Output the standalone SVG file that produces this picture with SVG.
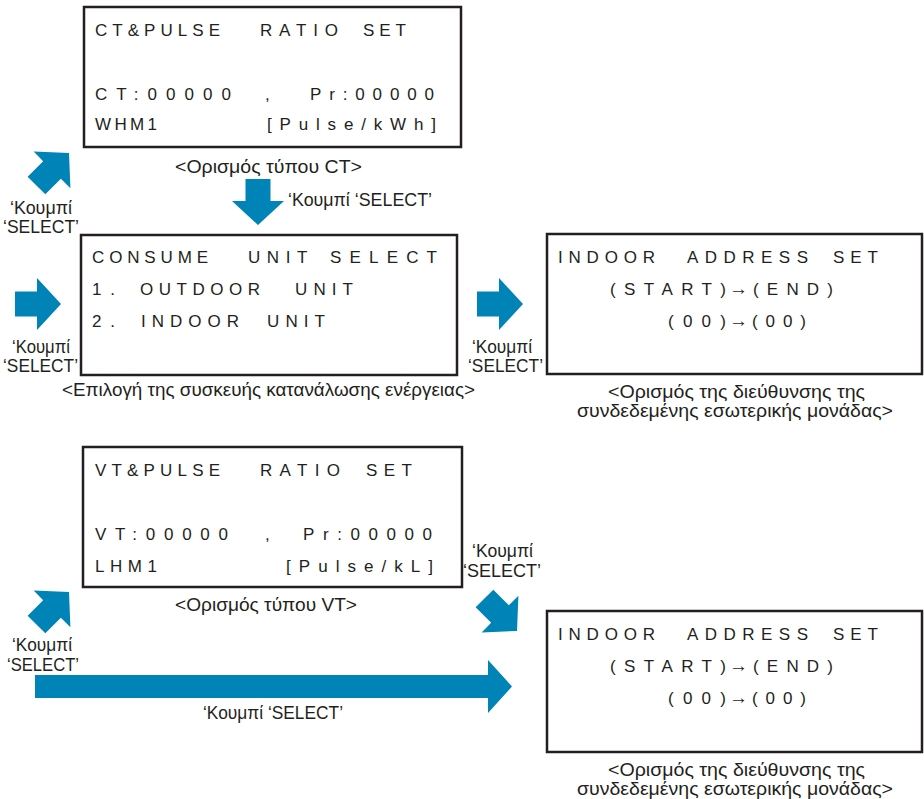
<svg xmlns="http://www.w3.org/2000/svg" width="924" height="799" viewBox="0 0 924 799">
<defs>
<style>
.box{fill:#fff;stroke:#231f20;stroke-width:2.5}
.lcd{font-family:"Liberation Sans",Arial,sans-serif;font-size:17px;fill:#231f20}
.arr{font-size:19px}
.cap{font-family:"Liberation Sans",Arial,sans-serif;font-size:18px;fill:#231f20}
.ar{fill:#0083b7}
</style>
<path id="ah" d="M-46,-12.5 H-24 V-26 L0,0 L-24,26 V12.5 H-46 Z"/>
</defs>
<rect width="924" height="799" fill="#fff"/>
<g id="connectors">
<use href="#ah" class="ar" transform="translate(69,153) rotate(-45)"/>
<use href="#ah" class="ar" transform="translate(258,225) rotate(90)"/>
<use href="#ah" class="ar" transform="translate(61,304)"/>
<use href="#ah" class="ar" transform="translate(523,304)"/>
<use href="#ah" class="ar" transform="translate(69,592) rotate(-45)"/>
<use href="#ah" class="ar" transform="translate(517,631) rotate(45)"/>
<path class="ar" d="M35,675 H488 V660 L512,686.5 L488,713 V698 H35 Z"/>
<text class="cap" x="10" y="214" textLength="62" lengthAdjust="spacingAndGlyphs">‘Κουμπί</text>
<text class="cap" x="3" y="233" textLength="76" lengthAdjust="spacingAndGlyphs">‘SELECT’</text>
<text class="cap" x="288" y="206" textLength="144" lengthAdjust="spacingAndGlyphs">‘Κουμπί ‘SELECT’</text>
<text class="cap" x="12" y="353" textLength="58" lengthAdjust="spacingAndGlyphs">‘Κουμπί</text>
<text class="cap" x="3" y="372" textLength="75" lengthAdjust="spacingAndGlyphs">‘SELECT’</text>
<text class="cap" x="472" y="353" textLength="60" lengthAdjust="spacingAndGlyphs">‘Κουμπί</text>
<text class="cap" x="468" y="372" textLength="75" lengthAdjust="spacingAndGlyphs">‘SELECT’</text>
<text class="cap" x="472" y="557" textLength="61" lengthAdjust="spacingAndGlyphs">‘Κουμπί</text>
<text class="cap" x="463" y="577" textLength="78" lengthAdjust="spacingAndGlyphs">‘SELECT’</text>
<text class="cap" x="12" y="651" textLength="60" lengthAdjust="spacingAndGlyphs">‘Κουμπί</text>
<text class="cap" x="7" y="671" textLength="72" lengthAdjust="spacingAndGlyphs">‘SELECT’</text>
<text class="cap" x="203" y="719" textLength="140" lengthAdjust="spacingAndGlyphs">‘Κουμπί ‘SELECT’</text>
</g>
<g id="node-ct">
<rect class="box" x="84" y="7" width="377" height="140"/>
<text class="lcd" y="36"><tspan x="95" textLength="125">CT&amp;PULSE</tspan> <tspan x="260" textLength="78">RATIO</tspan> <tspan x="363" textLength="43">SET</tspan></text>
<text class="lcd" y="100"><tspan x="95" textLength="136">CT:00000</tspan> <tspan x="265">,</tspan> <tspan x="310" textLength="124">Pr:00000</tspan></text>
<text class="lcd" y="130"><tspan x="95" textLength="62">WHM1</tspan> <tspan x="267" textLength="169">[Pulse/kWh]</tspan></text>
<text class="cap" x="175" y="173" textLength="187" lengthAdjust="spacingAndGlyphs">&lt;Ορισμός τύπου CT&gt;</text>
</g>
<g id="node-consume">
<rect class="box" x="81" y="235" width="376" height="140"/>
<text class="lcd" y="263"><tspan x="92" textLength="116">CONSUME</tspan> <tspan x="248" textLength="59">UNIT</tspan> <tspan x="330" textLength="107">SELECT</tspan></text>
<text class="lcd" y="295"><tspan x="92" textLength="23">1.</tspan> <tspan x="140" textLength="120">OUTDOOR</tspan> <tspan x="295" textLength="58">UNIT</tspan></text>
<text class="lcd" y="327"><tspan x="92" textLength="23">2.</tspan> <tspan x="141" textLength="98">INDOOR</tspan> <tspan x="267" textLength="58">UNIT</tspan></text>
<text class="cap" x="62" y="396" textLength="413" lengthAdjust="spacingAndGlyphs">&lt;Επιλογή της συσκευής κατανάλωσης ενέργειας&gt;</text>
</g>
<g id="node-indoor1">
<rect class="box" x="547" y="234" width="375" height="140"/>
<text class="lcd" y="263"><tspan x="558" textLength="97">INDOOR</tspan> <tspan x="687" textLength="121">ADDRESS</tspan> <tspan x="833" textLength="45">SET</tspan></text>
<text class="lcd" y="295"><tspan x="610" textLength="116">(START)</tspan><tspan x="729" class="arr">→</tspan><tspan x="753" textLength="80">(END)</tspan></text>
<text class="lcd" y="327"><tspan x="668" textLength="58">(00)</tspan><tspan x="729" class="arr">→</tspan><tspan x="752" textLength="54">(00)</tspan></text>
<text class="cap" x="608" y="398" textLength="257" lengthAdjust="spacingAndGlyphs">&lt;Ορισμός της διεύθυνσης της</text>
<text class="cap" x="577" y="417" textLength="316" lengthAdjust="spacingAndGlyphs">συνδεδεμένης εσωτερικής μονάδας&gt;</text>
</g>
<g id="node-vt">
<rect class="box" x="83" y="447" width="379" height="140"/>
<text class="lcd" y="476"><tspan x="95" textLength="125">VT&amp;PULSE</tspan> <tspan x="260" textLength="80">RATIO</tspan> <tspan x="366" textLength="46">SET</tspan></text>
<text class="lcd" y="540"><tspan x="95" textLength="133">VT:00000</tspan> <tspan x="265">,</tspan> <tspan x="303" textLength="129">Pr:00000</tspan></text>
<text class="lcd" y="572"><tspan x="95" textLength="62">LHM1</tspan> <tspan x="286" textLength="147">[Pulse/kL]</tspan></text>
<text class="cap" x="175" y="611" textLength="182" lengthAdjust="spacingAndGlyphs">&lt;Ορισμός τύπου VT&gt;</text>
</g>
<g id="node-indoor2">
<rect class="box" x="547" y="611" width="375" height="141"/>
<text class="lcd" y="640"><tspan x="558" textLength="97">INDOOR</tspan> <tspan x="687" textLength="121">ADDRESS</tspan> <tspan x="833" textLength="45">SET</tspan></text>
<text class="lcd" y="672"><tspan x="610" textLength="116">(START)</tspan><tspan x="729" class="arr">→</tspan><tspan x="753" textLength="80">(END)</tspan></text>
<text class="lcd" y="704"><tspan x="668" textLength="58">(00)</tspan><tspan x="729" class="arr">→</tspan><tspan x="752" textLength="54">(00)</tspan></text>
<text class="cap" x="608" y="776" textLength="257" lengthAdjust="spacingAndGlyphs">&lt;Ορισμός της διεύθυνσης της</text>
<text class="cap" x="577" y="795" textLength="316" lengthAdjust="spacingAndGlyphs">συνδεδεμένης εσωτερικής μονάδας&gt;</text>
</g>
</svg>
